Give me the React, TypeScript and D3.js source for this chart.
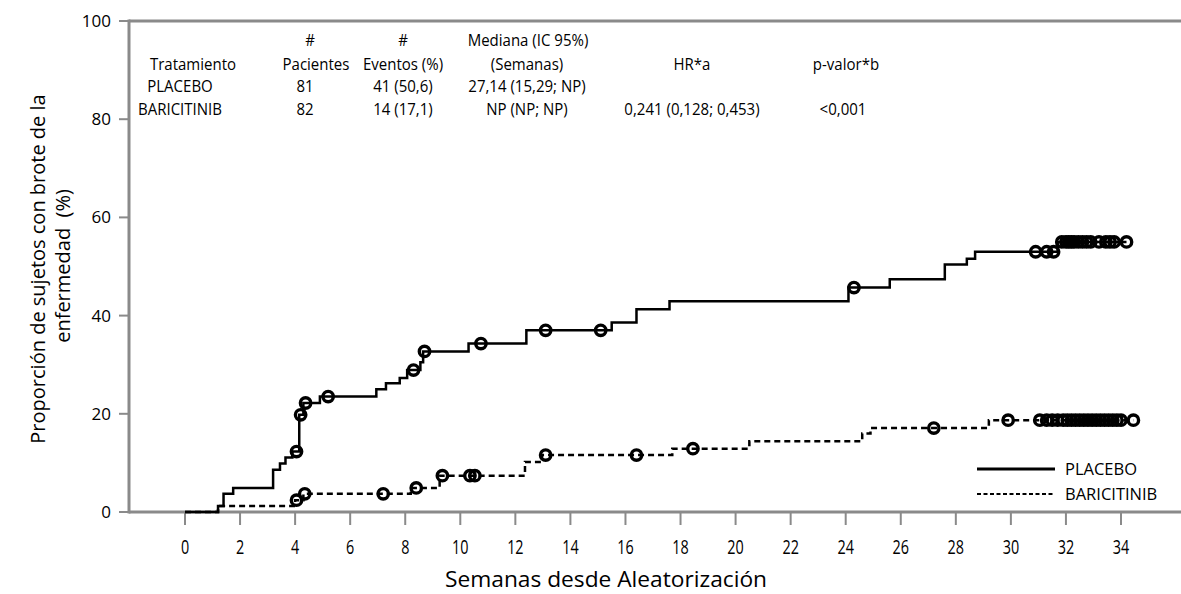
import React from "react";
import * as d3 from "d3";

const placeboTimes = [0, 1.2, 1.4, 1.75, 3.2, 3.45, 3.65, 3.9, 4.15, 4.3, 4.9, 6.95, 7.3, 7.8, 8.07, 8.55, 8.65, 10.3, 12.4, 15.5, 16.4, 17.6, 24.1, 25.6, 27.6, 28.4, 28.7, 31.7];
const placeboPct = [0, 1.2, 3.7, 4.9, 8.6, 9.9, 11.1, 12.3, 19.8, 22.2, 23.5, 25.0, 26.2, 27.3, 28.9, 30.5, 32.7, 34.3, 37.0, 38.6, 41.3, 42.9, 45.7, 47.4, 50.4, 51.6, 53.0, 55.0];
const placeboCensorTimes = [4.05, 4.2, 4.38, 5.2, 8.3, 8.7, 10.75, 13.1, 15.1, 24.3, 30.9, 31.3, 31.55, 31.85, 32.0, 32.1, 32.2, 32.3, 32.45, 32.6, 32.75, 32.9, 33.2, 33.45, 33.6, 33.75, 34.2];

const bariTimes = [0, 1.2, 4.0, 4.3, 8.2, 9.25, 12.35, 12.97, 17.7, 20.5, 24.6, 24.9, 29.2];
const bariPct = [0, 1.2, 2.4, 3.7, 4.9, 7.4, 10.2, 11.6, 12.9, 14.4, 16.0, 17.1, 18.7];
const bariCensorTimes = [4.05, 4.35, 7.2, 8.4, 9.35, 10.35, 10.53, 13.1, 16.4, 18.45, 27.2, 29.9, 31.05, 31.3, 31.5, 31.7, 31.9, 32.05, 32.2, 32.35, 32.5, 32.65, 32.8, 32.95, 33.1, 33.25, 33.4, 33.55, 33.7, 33.85, 34.0, 34.45];

const placeboEnd = 34.2;
const bariEnd = 34.45;

const xTicks = d3.range(0, 35, 2);
const yTicks = [0, 20, 40, 60, 80, 100];

const tableHeader1 = [
  { x: 310, t: "#" },
  { x: 403, t: "#" },
  { x: 528, t: "Mediana (IC 95%)" },
];
const tableHeader2 = [
  { x: 193, t: "Tratamiento" },
  { x: 316, t: "Pacientes" },
  { x: 403, t: "Eventos (%)" },
  { x: 527, t: "(Semanas)" },
  { x: 692, t: "HR*a" },
  { x: 846, t: "p-valor*b" },
];
const tableRow1 = [
  { x: 180, t: "PLACEBO" },
  { x: 305, t: "81" },
  { x: 403, t: "41 (50,6)" },
  { x: 527, t: "27,14 (15,29; NP)" },
];
const tableRow2 = [
  { x: 180, t: "BARICITINIB" },
  { x: 305, t: "82" },
  { x: 403, t: "14 (17,1)" },
  { x: 527, t: "NP (NP; NP)" },
  { x: 692, t: "0,241 (0,128; 0,453)" },
  { x: 843, t: "<0,001" },
];

const W = 1181;
const H = 594;
const FONT = "'Open Sans', 'Noto Sans', sans-serif";
const AX = "#8a8a8a";

function stepValue(times: number[], pct: number[], t: number) {
  let v = 0;
  for (let i = 0; i < times.length; i++) if (times[i] <= t) v = pct[i];
  return v;
}

export default function App() {
  const x = d3.scaleLinear().domain([0, 34]).range([185, 1121]);
  const y = d3.scaleLinear().domain([0, 100]).range([512, 21]);
  const line = d3
    .line<[number, number]>()
    .x((d) => x(d[0]))
    .y((d) => y(d[1]))
    .curve(d3.curveStepAfter);

  const pPts: [number, number][] = placeboTimes.map((t, i) => [t, placeboPct[i]]);
  pPts.push([placeboEnd, placeboPct[placeboPct.length - 1]]);
  const bPts: [number, number][] = bariTimes.map((t, i) => [t, bariPct[i]]);
  bPts.push([bariEnd, bariPct[bariPct.length - 1]]);

  const textRow = (items: { x: number; t: string }[], yy: number) =>
    items.map((d, i) => (
      <text key={i} x={d.x} y={yy} textAnchor="middle" fontSize={15.5} fill="#000" transform={`translate(${d.x},0) scale(0.97,1) translate(${-d.x},0)`}>
        {d.t}
      </text>
    ));

  return (
    <svg width={W} height={H} style={{ position: "absolute", left: 0, top: 0, background: "#fff" }} fontFamily={FONT}>
      {/* frame */}
      <line x1={129} x2={W} y1={y(100)} y2={y(100)} stroke={AX} strokeWidth={3} />
      <line x1={129} x2={W} y1={y(0)} y2={y(0)} stroke={AX} strokeWidth={3} />
      <line x1={129} x2={129} y1={y(100) - 1.5} y2={y(0) + 1.5} stroke={AX} strokeWidth={3} />
      {yTicks.map((t) => (
        <g key={t}>
          <line x1={119} x2={129} y1={y(t)} y2={y(t)} stroke={AX} strokeWidth={2} />
          <text x={111} y={y(t)} dy="0.35em" textAnchor="end" fontSize={17}>
            {t}
          </text>
        </g>
      ))}
      {xTicks.map((t) => (
        <g key={t}>
          <line x1={x(t)} x2={x(t)} y1={y(0)} y2={y(0) + 13} stroke={AX} strokeWidth={2} />
          <text transform={`translate(${x(t)},${554}) scale(0.72,1)`} textAnchor="middle" fontSize={20}>
            {t}
          </text>
        </g>
      ))}
      <text x={606} y={587} textAnchor="middle" fontSize={22} textLength={322} lengthAdjust="spacingAndGlyphs">
        Semanas desde Aleatorización
      </text>
      <text transform={`translate(45,269) rotate(-90)`} textAnchor="middle" fontSize={20}>
        Proporción de sujetos con brote de la
      </text>
      <text transform={`translate(70,266) rotate(-90)`} textAnchor="middle" fontSize={20} xmlSpace="preserve">
        {"enfermedad\u00a0\u00a0(%)"}
      </text>

      {/* table */}
      {textRow(tableHeader1, 46)}
      {textRow(tableHeader2, 70)}
      {textRow(tableRow1, 92)}
      {textRow(tableRow2, 115)}

      {/* curves */}
      <path d={line(pPts) || ""} fill="none" stroke="#000" strokeWidth={2.5} />
      <path d={line(bPts) || ""} fill="none" stroke="#000" strokeWidth={2.5} strokeDasharray="6 4" />
      {placeboCensorTimes.map((t, i) => (
        <circle key={"pc" + i} cx={x(t)} cy={y(stepValue(placeboTimes, placeboPct, t))} r={5.2} fill="none" stroke="#000" strokeWidth={3.4} />
      ))}
      {bariCensorTimes.map((t, i) => (
        <circle key={"bc" + i} cx={x(t)} cy={y(stepValue(bariTimes, bariPct, t))} r={5.2} fill="none" stroke="#000" strokeWidth={3.4} />
      ))}

      {/* legend */}
      <line x1={977} x2={1055} y1={469} y2={469} stroke="#000" strokeWidth={3} />
      <text x={1065} y={469} dy="0.35em" fontSize={16.5}>PLACEBO</text>
      <line x1={977} x2={1055} y1={494} y2={494} stroke="#000" strokeWidth={1.8} strokeDasharray="4 2.5" />
      <text x={1065} y={494} dy="0.35em" fontSize={16.5}>BARICITINIB</text>
    </svg>
  );
}
